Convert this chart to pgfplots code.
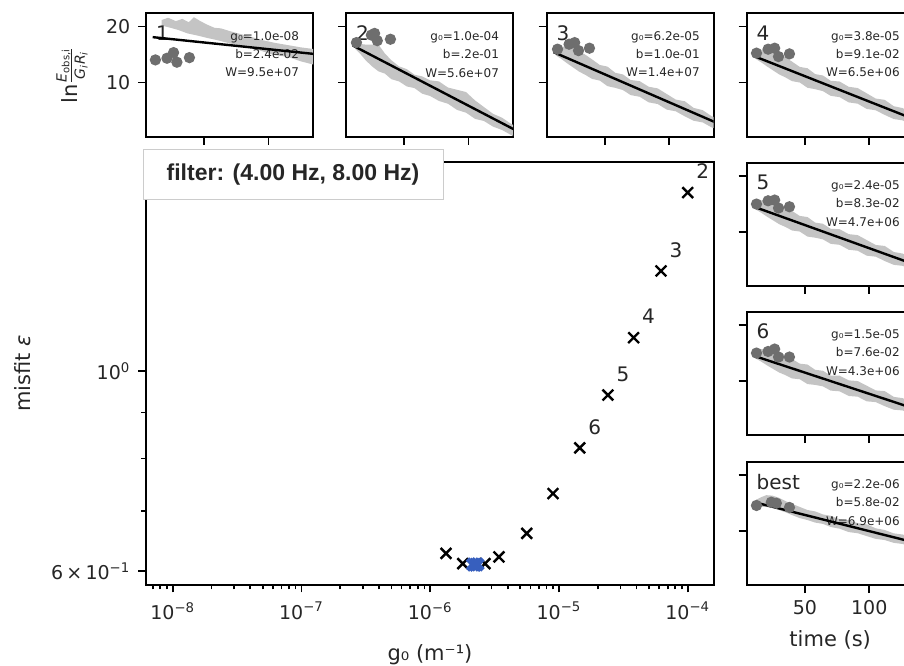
\documentclass[border=0pt]{standalone}
\usepackage{fontspec}
\setmainfont{DejaVu Sans}
\newfontfamily\lsans{Liberation Sans}
\usepackage{pgfplots}
\pgfplotsset{compat=1.18}
\definecolor{band}{RGB}{196,196,196}
\definecolor{dot}{RGB}{110,110,110}
\definecolor{bestblue}{RGB}{55,95,190}
\definecolor{legframe}{RGB}{204,204,204}
\definecolor{txt}{RGB}{38,38,38}
\pgfplotsset{
 small/.style={
  scale only axis, width=83.5pt, height=61.7pt,
  xmin=4.8, xmax=134.5, ymin=0.3, ymax=22.4,
  xtick={50,100}, ytick={10,20}, xticklabels={}, yticklabels={},
  tick align=outside, tick pos=left,
  major tick length=4pt,
  line width=1pt,
  tick style={line width=0.8pt, black},
  tick label style={font=\fontsize{9.5}{11}\selectfont, text=txt},
  label style={font=\fontsize{10.5}{12}\selectfont, text=txt},
  anchor=south west,
 },
}
\newcommand{\panelinfo}[4]{%
 \node[anchor=west, font=\fontsize{10}{12}\selectfont, text=txt, inner sep=0pt] at ([xshift=4.5pt,yshift=-10pt]rel axis cs:0,1) {#1};
 \node[anchor=north east, align=right, font=\fontsize{6}{9.2}\selectfont, text=txt, inner sep=0pt] at ([xshift=-6.5pt,yshift=-8.5pt]rel axis cs:1,1) {g₀=#2\\b=#3\\W=#4};
}
\begin{document}
\begin{tikzpicture}
\useasboundingbox (0,0) rectangle (452pt,332.5pt);
\clip (0,0) rectangle (452pt,332.5pt);
% main axis
\begin{axis}[at={(73pt,40.25pt)}, anchor=south west, scale only axis,
 width=284pt, height=211.25pt,
 xmode=log, ymode=log, xmin=6.2e-9, xmax=1.6e-4, ymin=0.58, ymax=1.705,
 line width=1pt,
 tick align=outside, tick pos=left,
 major tick length=4pt, minor tick length=2.4pt,
 tick style={line width=0.8pt, black},
 xtick={1e-8,1e-7,1e-6,1e-5,1e-4},
 xticklabels={10\textsuperscript{−8},10\textsuperscript{−7},10\textsuperscript{−6},10\textsuperscript{−5},10\textsuperscript{−4}},
 minor xtick={7e-9,8e-9,9e-9,2e-8,3e-8,4e-8,5e-8,6e-8,7e-8,8e-8,9e-8,2e-7,3e-7,4e-7,5e-7,6e-7,7e-7,8e-7,9e-7,2e-6,3e-6,4e-6,5e-6,6e-6,7e-6,8e-6,9e-6,2e-5,3e-5,4e-5,5e-5,6e-5,7e-5,8e-5,9e-5},
 ytick={0.6,1}, yticklabels={6\,×\,10\textsuperscript{−1},10\textsuperscript{0}},
 minor ytick={0.7,0.8,0.9},
 tick label style={font=\fontsize{9.5}{11}\selectfont, text=txt},
 xticklabel style={yshift=-1pt},
 xlabel={g₀ (m⁻¹)}, ylabel={misfit \textit{ε}},
 label style={font=\fontsize{10.5}{12}\selectfont, text=txt},
 xlabel style={at={(axis description cs:0.5,-0.166)}, anchor=center},
 ylabel style={at={(axis description cs:-0.2174,0.5)}, anchor=center},
]
\addplot[only marks, mark=x, mark size=3.8pt, line width=1.2pt, black,
 nodes near coords, point meta=explicit symbolic,
 every node near coord/.style={font=\fontsize{10}{12}\selectfont, text=txt, anchor=center, xshift=7.5pt, yshift=10.5pt}]
 table[meta=lab] {
x y lab
1.0e-4 1.577 2
6.2e-5 1.291 3
3.8e-5 1.089 4
2.4e-5 0.9406 5
1.45e-5 0.822 6
};
\addplot[only marks, mark=x, mark size=3.8pt, line width=1.2pt, black] coordinates {
(8.99e-6,0.7316) (5.62e-6,0.661) (3.42e-6,0.6223) (2.665e-6,0.6117) (1.789e-6,0.6117) (1.326e-6,0.628)
};
\addplot[only marks, mark=x, mark size=3.9pt, line width=2.4pt, bestblue] coordinates {
(2.15e-6,0.6104) (2.24e-6,0.6100) (2.33e-6,0.6106)
};
\end{axis}
\node[draw=legframe, line width=0.5pt, fill=white, minimum width=150pt, minimum height=25pt, inner sep=0pt,
 font=\lsans\bfseries\fontsize{11.5}{13}\selectfont, text=txt] at (146.5pt,245pt) {filter: (4.00 Hz, 8.00 Hz)};
% panel 1
\begin{axis}[small, at={(73pt,264.15pt)}, yticklabels={10,20},
 ylabel={ln$\frac{\mbox{\fontsize{7}{8}\selectfont\itshape E\textsubscript{\upshape obs,i}}}{\mbox{\fontsize{7}{8}\selectfont\itshape G\textsubscript{i}R\textsubscript{i}}}$},
 ylabel style={at={(axis description cs:-0.443,0.5)}, anchor=center}]
\addplot[fill=band, draw=none] coordinates {
(17,21.2)(22,21.6)(28,21.0)(33,21.4)(38,20.8)(42,21.7)(47,21.0)(52,20.4)(58,19.8)(63,19.7)(70,19.2)(78,18.7)(86,18.2)(95,17.6)(105,17.1)(115,16.7)(125,16.3)(135,16.0)(140,15.8)
(140,12.9)(135,13.2)(125,13.8)(115,14.6)(105,14.9)(99,15.3)(90,16.0)(80,16.5)(70,17.0)(60,17.6)(52,18.0)(45,18.4)(37,18.8)(30,19.4)(24,19.8)(17,20.2)};
\panelinfo{1}{1.0e-08}{2.4e-02}{9.5e+07}
\addplot[only marks, mark=*, mark size=2.3pt, draw=dot, fill=dot] coordinates {(12.1,14.05)(21.1,14.35)(26.2,15.36)(28.8,13.64)(38.5,14.46)};
\addplot[black, line width=1.2pt] coordinates {(10,18.129)(140,15.009)};
\end{axis}
% panel 2
\begin{axis}[small, at={(173pt,264.15pt)}]
\addplot[fill=band, draw=none] coordinates {
(12,17.0)(16,16.9)(20,16.8)(25,16.8)(30,16.8)(35,15.2)(40,14.0)(46,12.9)(52,12.4)(58,11.4)(64,11.1)(70,10.4)(77,10.2)(84,9.1)(91,8.7)(98,8.3)(105,6.8)(112,5.6)(119,4.4)(126,3.7)(133,2.6)(140,1.8)
(140,-0.1)(133,0.6)(126,1.5)(119,2.1)(112,3.1)(105,3.5)(98,4.6)(91,5.1)(84,6.2)(77,6.7)(70,7.6)(64,8.0)(58,9.0)(52,9.3)(46,10.2)(40,10.6)(35,11.6)(30,12.0)(25,12.9)(20,14.0)(16,15.1)(12,16.0)};
\panelinfo{2}{1.0e-04}{.2e-01}{5.6e+07}
\addplot[only marks, mark=*, mark size=2.3pt, draw=dot, fill=dot] coordinates {(12.9,17.15)(24.5,18.5)(27,18.8)(29.1,17.5)(39.3,17.75)};
\addplot[black, line width=1.2pt] coordinates {(10,16.641)(140,1.041)};
\end{axis}
% panel 3
\begin{axis}[small, at={(273.35pt,264.15pt)}]
\addplot[fill=band, draw=none] coordinates {
(12,15.85)(16,16.45)(20,16.45)(25,16.35)(30,15.65)(35,14.95)(40,14.15)(46,13.15)(52,12.85)(58,11.75)(64,11.45)(70,10.45)(77,10.25)(84,9.25)(91,8.95)(98,7.95)(105,6.95)(112,6.65)(119,5.45)(126,5.05)(133,3.95)(140,3.45)
(140,1.45)(133,1.95)(126,2.85)(119,3.15)(112,3.95)(105,4.85)(98,5.15)(91,6.15)(84,6.45)(77,7.45)(70,7.75)(64,8.65)(58,9.05)(52,9.35)(46,10.35)(40,10.65)(35,11.35)(30,11.95)(25,12.75)(20,13.55)(16,14.25)(12,14.85)};
\panelinfo{3}{6.2e-05}{1.0e-01}{1.4e+07}
\addplot[only marks, mark=*, mark size=2.3pt, draw=dot, fill=dot] coordinates {(13.2,15.97)(22.2,16.86)(26.5,17.15)(29.5,15.72)(38,16.15)};
\addplot[black, line width=1.2pt] coordinates {(10,15.455)(140,2.455)};
\end{axis}
% panel 4
\begin{axis}[small, at={(373.35pt,264.15pt)}]
\addplot[fill=band, draw=none] coordinates {
(12,15.20)(16,15.83)(20,15.87)(25,15.81)(30,15.16)(35,14.50)(40,13.75)(46,12.80)(52,12.56)(58,11.51)(64,11.26)(70,10.32)(77,10.18)(84,9.24)(91,9.01)(98,8.07)(105,7.13)(112,6.90)(119,5.76)(126,5.42)(133,4.38)(140,3.95)
(140,1.95)(133,2.38)(126,3.22)(119,3.46)(112,4.20)(105,5.03)(98,5.27)(91,6.21)(84,6.44)(77,7.38)(70,7.62)(64,8.46)(58,8.81)(52,9.06)(46,10.00)(40,10.25)(35,10.90)(30,11.46)(25,12.21)(20,12.97)(16,13.63)(12,14.20)};
\panelinfo{4}{3.8e-05}{9.1e-02}{6.5e+06}
\addplot[only marks, mark=*, mark size=2.3pt, draw=dot, fill=dot] coordinates {(12.4,15.26)(21.4,15.97)(26.5,16.15)(29.5,14.65)(38,15.13)};
\addplot[black, line width=1.2pt] coordinates {(10,14.777)(140,2.947)};
\end{axis}
% panel 5
\begin{axis}[small, at={(373.35pt,189.5pt)}]
\addplot[fill=band, draw=none] coordinates {
(12,14.97)(16,15.64)(20,15.70)(25,15.69)(30,15.07)(35,14.46)(40,13.74)(46,12.85)(52,12.65)(58,11.65)(64,11.45)(70,10.55)(77,10.47)(84,9.59)(91,9.41)(98,8.53)(105,7.65)(112,7.47)(119,6.39)(126,6.11)(133,5.12)(140,4.74)
(140,2.74)(133,3.12)(126,3.91)(119,4.09)(112,4.77)(105,5.55)(98,5.73)(91,6.61)(84,6.79)(77,7.67)(70,7.85)(64,8.65)(58,8.95)(52,9.15)(46,10.05)(40,10.24)(35,10.86)(30,11.37)(25,12.09)(20,12.80)(16,13.44)(12,13.97)};
\panelinfo{5}{2.4e-05}{8.3e-02}{4.7e+06}
\addplot[only marks, mark=*, mark size=2.3pt, draw=dot, fill=dot] coordinates {(12.4,14.97)(21.4,15.56)(26.5,15.69)(29.5,14.26)(38,14.49)};
\addplot[black, line width=1.2pt] coordinates {(10,14.533)(140,3.743)};
\end{axis}
% panel 6
\begin{axis}[small, at={(373.35pt,115pt)}]
\addplot[fill=band, draw=none] coordinates {
(12,14.96)(16,15.66)(20,15.75)(25,15.77)(30,15.19)(35,14.61)(40,13.93)(46,13.08)(52,12.92)(58,11.97)(64,11.81)(70,10.95)(77,10.92)(84,10.09)(91,9.96)(98,9.13)(105,8.29)(112,8.16)(119,7.13)(126,6.90)(133,5.97)(140,5.63)
(140,3.63)(133,3.97)(126,4.70)(119,4.83)(112,5.46)(105,6.19)(98,6.33)(91,7.16)(84,7.29)(77,8.12)(70,8.25)(64,9.01)(58,9.27)(52,9.42)(46,10.28)(40,10.43)(35,11.01)(30,11.49)(25,12.17)(20,12.85)(16,13.46)(12,13.96)};
\panelinfo{6}{1.5e-05}{7.6e-02}{4.3e+06}
\addplot[only marks, mark=*, mark size=2.3pt, draw=dot, fill=dot] coordinates {(12.4,14.97)(21.4,15.26)(26.5,15.69)(29.5,14.26)(38,14.26)};
\addplot[black, line width=1.2pt] coordinates {(10,14.514)(140,4.634)};
\end{axis}
% best
\begin{axis}[small, at={(373.35pt,40pt)}, xticklabels={50,100}, xlabel={time (s)},
 xlabel style={at={(axis description cs:0.5,-0.446)}, anchor=center}]
\addplot[only marks, mark=*, mark size=2.3pt, draw=dot, fill=dot] coordinates {(12.4,14.54)(23.9,15.13)(27.8,14.95)(38,14.19)};
\addplot[fill=band, draw=none] coordinates {
(12,15.55)(16,16.02)(20,16.39)(25,16.30)(30,15.91)(35,15.32)(40,14.83)(46,14.28)(52,13.73)(58,13.48)(64,12.94)(70,12.69)(77,12.08)(84,11.88)(91,11.37)(98,11.16)(105,10.46)(112,10.15)(119,9.55)(126,9.34)(133,8.83)(140,8.43)
(140,6.83)(133,7.13)(126,7.64)(119,7.85)(112,8.35)(105,8.56)(98,9.06)(91,9.57)(84,9.78)(77,10.38)(70,10.69)(64,11.24)(58,11.48)(52,11.93)(46,12.28)(40,12.83)(35,13.32)(30,13.71)(25,14.10)(20,14.29)(16,14.32)(12,14.45)};
\panelinfo{best}{2.2e-06}{5.8e-02}{6.9e+06}
\addplot[black, line width=1.2pt] coordinates {(10,15.167)(140,7.627)};
\end{axis}
\end{tikzpicture}
\end{document}
